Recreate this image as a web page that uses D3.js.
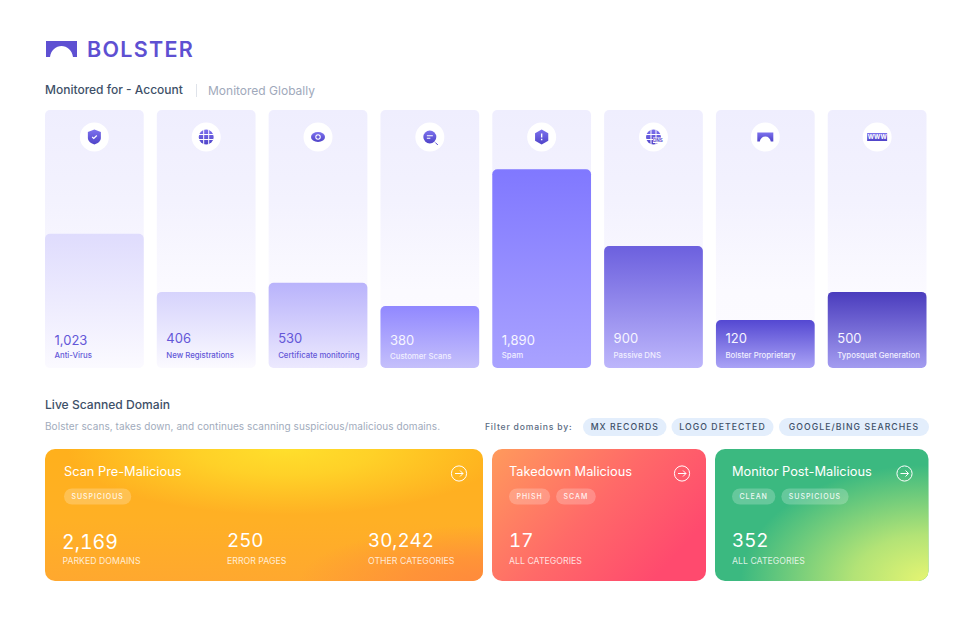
<!DOCTYPE html>
<html>
<head>
<meta charset="utf-8">
<script src="https://cdn.jsdelivr.net/npm/d3@7"></script>
<style>
  html, body { margin: 0; padding: 0; background: #fff; }
  svg { display: block; }
  text { font-family: Inter, "Noto Sans", sans-serif; }
</style>
</head>
<body>
<div id="chart"></div>
<script>
// bar data
const sources = ["Anti-Virus", "New Registrations", "Certificate monitoring", "Customer Scans", "Spam", "Passive DNS", "Bolster Proprietary", "Typosquat Generation"];
const counts = [1023, 406, 530, 380, 1890, 900, 120, 500];
// the bars are not linear to the counts, so the fill level is read off the picture
const fillLevels = [0.52, 0.295, 0.33, 0.24, 0.77, 0.473, 0.186, 0.295];
const barTopColors = ["#dfdcfd", "#d6d3fc", "#b9b3fb", "#9188ff", "#8078ff", "#6c60de", "#5448d2", "#4a3cbd"];
const barBottomColors = ["#fbfaff", "#fbfaff", "#ece9fe", "#c5c0fb", "#a9a2ff", "#bdb6fb", "#aaa3f6", "#a39cf0"];
const darkLabel = [false, false, false, true, true, true, true, true];

// domain cards
const stages = ["Scan Pre-Malicious", "Takedown Malicious", "Monitor Post-Malicious"];
const stageTags = [["SUSPICIOUS"], ["PHISH", "SCAM"], ["CLEAN", "SUSPICIOUS"]];
const stageValues = [[2169, 250, 30242], [17], [352]];
const stageValueLabels = [["PARKED DOMAINS", "ERROR PAGES", "OTHER CATEGORIES"], ["ALL CATEGORIES"], ["ALL CATEGORIES"]];
const filters = ["MX RECORDS", "LOGO DETECTED", "GOOGLE/BING SEARCHES"];

const width = 974;
const height = 621;

const svg = d3.select("#chart").append("svg")
    .attr("width", width)
    .attr("height", height);
const defs = svg.append("defs");

function linearGrad(id, stops, x2 = 0, y2 = 1) {
    const g = defs.append("linearGradient").attr("id", id)
        .attr("x1", 0).attr("y1", 0).attr("x2", x2).attr("y2", y2);
    stops.forEach(s => g.append("stop").attr("offset", s[0]).attr("stop-color", s[1]));
}

function radialGrad(id, cx, cy, r, color) {
    const g = defs.append("radialGradient").attr("id", id)
        .attr("cx", cx).attr("cy", cy).attr("r", r);
    g.append("stop").attr("offset", 0).attr("stop-color", color).attr("stop-opacity", 1);
    g.append("stop").attr("offset", 0.4).attr("stop-color", color).attr("stop-opacity", 0.7);
    g.append("stop").attr("offset", 1).attr("stop-color", color).attr("stop-opacity", 0);
}

linearGrad("trackFill", [[0, "#efeefe"], [0.35, "#f3f2fe"], [0.7, "#fbfaff"], [1, "#fcfbff"]]);
linearGrad("iconFill", [[0, "#7d72ee"], [1, "#4f43c8"]]);
barTopColors.forEach((c, i) => linearGrad(`bar${i}`, [[0, c], [1, barBottomColors[i]]]));

// logo
const logo = svg.append("g");
logo.append("path")
    .attr("fill", "#5e50d2")
    .attr("d", "M46,41H77V57H73C72,50 67,46 61.5,46C56,46 51,50 50,57H46Z");
logo.append("text")
    .attr("x", 87).attr("y", 57)
    .attr("fill", "#5e50d2")
    .style("font-size", "21.5px").style("font-weight", 600).style("letter-spacing", "1.3px")
    .text("BOLSTER");

// section header
svg.append("text").attr("x", 45).attr("y", 94)
    .attr("fill", "#3e5068")
    .style("font-size", "12px").style("font-weight", 500)
    .text("Monitored for - Account");
svg.append("line").attr("x1", 196.5).attr("x2", 196.5).attr("y1", 84).attr("y2", 97)
    .attr("stroke", "#dfe3ea");
svg.append("text").attr("x", 208).attr("y", 95)
    .attr("fill", "#9fa9bb")
    .style("font-size", "12px")
    .text("Monitored Globally");

// bars
const x = d3.scaleBand().domain(sources).range([45, 926.5]).paddingInner(0.117);
const y = d3.scaleLinear().domain([0, 1]).range([368, 110]);

const columns = svg.append("g").selectAll("g")
    .data(sources)
    .join("g")
    .attr("transform", d => `translate(${x(d)},0)`);

columns.append("rect")
    .attr("y", y(1))
    .attr("width", x.bandwidth())
    .attr("height", y(0) - y(1))
    .attr("rx", 5)
    .attr("fill", "url(#trackFill)");

columns.append("rect")
    .attr("y", (d, i) => y(fillLevels[i]))
    .attr("width", x.bandwidth())
    .attr("height", (d, i) => y(0) - y(fillLevels[i]))
    .attr("rx", 5)
    .attr("fill", (d, i) => `url(#bar${i})`);

columns.append("text")
    .attr("x", 9.5)
    .attr("y", (d, i) => (i === 0 || i === 3 || i === 4) ? 345 : 343)
    .attr("fill", (d, i) => darkLabel[i] ? "#f6f5ff" : "#6357d8")
    .style("font-size", "13px")
    .text((d, i) => d3.format(",")(counts[i]));

columns.append("text")
    .attr("x", 9.5)
    .attr("y", (d, i) => i === 3 ? 359 : 358)
    .attr("fill", (d, i) => darkLabel[i] ? "#f1efff" : "#6357d8")
    .style("font-size", "7.8px")
    .style("font-weight", 500)
    .text(d => d);

// icons on the white discs
const icons = [
    g => {
        g.append("path").attr("fill", "url(#iconFill)").attr("d", "M0,-7.5L6.5,-5V1C6.5,4.5 3,6.5 0,7.5C-3,6.5 -6.5,4.5 -6.5,1V-5Z");
        g.append("path").attr("fill", "none").attr("stroke", "#fff").attr("stroke-width", 1.2).attr("d", "M-2.2,0L-0.6,1.5L2.4,-1.5");
    },
    g => globe(g),
    g => {
        g.append("ellipse").attr("rx", 7).attr("ry", 5).attr("fill", "url(#iconFill)");
        g.append("circle").attr("r", 2.2).attr("fill", "none").attr("stroke", "#fff").attr("stroke-width", 1.1);
    },
    g => {
        g.append("circle").attr("r", 6.5).attr("fill", "url(#iconFill)");
        g.append("path").attr("stroke", "#fff").attr("stroke-width", 1.1).attr("d", "M-3,-1.2H3M-3,1.2H0.5");
        g.append("path").attr("stroke", "#5a4ed0").attr("stroke-width", 1).attr("d", "M5.5,5.5L8,8");
    },
    g => {
        g.append("path").attr("fill", "url(#iconFill)").attr("d", "M0,-7.5L6.6,-3.8V3.8L0,7.5L-6.6,3.8V-3.8Z");
        g.append("path").attr("stroke", "#fff").attr("stroke-width", 1.4).attr("stroke-dasharray", "4 1.4 1.4").attr("d", "M0,-3.6V3.4");
    },
    g => {
        globe(g);
        g.append("rect").attr("x", -0.5).attr("y", 0.5).attr("width", 9.5).attr("height", 5.5).attr("fill", "#fff");
        g.append("text").attr("x", 4.3).attr("y", 5).attr("text-anchor", "middle").attr("fill", "#5a4ed0")
            .style("font-size", "4.6px").style("font-weight", 700).text("DNS");
    },
    g => {
        g.append("path").attr("fill", "url(#iconFill)").attr("d", "M-8,-4.5H8V4.5H5.5C5,1.5 3,-0.5 0,-0.5C-3,-0.5 -5,1.5 -5.5,4.5H-8Z");
    },
    g => {
        g.append("rect").attr("x", -10).attr("y", -4).attr("width", 20).attr("height", 8).attr("fill", "url(#iconFill)");
        g.append("text").attr("y", 2.2).attr("text-anchor", "middle").attr("fill", "#fff")
            .style("font-size", "6px").style("font-weight", 700).text("WWW");
    }
];

function globe(g) {
    g.append("circle").attr("r", 7.5).attr("fill", "url(#iconFill)");
    g.append("path").attr("fill", "none").attr("stroke", "#fff").attr("stroke-width", 1)
        .attr("d", "M-7.5,-2.5H7.5M-7.5,2.5H7.5M-2.5,-7.5V7.5M2.5,-7.5V7.5");
}

columns.append("circle")
    .attr("cx", x.bandwidth() / 2)
    .attr("cy", 137)
    .attr("r", 14.5)
    .attr("fill", "#fff");

columns.append("g")
    .attr("transform", `translate(${x.bandwidth() / 2},137)`)
    .each(function(d, i) { icons[i](d3.select(this)); });

// live scanned header
svg.append("text").attr("x", 45).attr("y", 409)
    .attr("fill", "#3e5068")
    .style("font-size", "12.1px").style("font-weight", 500)
    .text("Live Scanned Domain");
svg.append("text").attr("x", 45).attr("y", 430)
    .attr("fill", "#a1abbc")
    .style("font-size", "10px").style("letter-spacing", "0.08px")
    .text("Bolster scans, takes down, and continues scanning suspicious/malicious domains.");

svg.append("text").attr("x", 485).attr("y", 430)
    .attr("fill", "#5a6b82")
    .style("font-size", "8.6px").style("font-weight", 500).style("letter-spacing", "0.8px")
    .text("Filter domains by:");

// filter chips
const chipX = [583, 671.5, 779];
const chipW = [83.5, 102, 150];
const chips = svg.append("g").selectAll("g")
    .data(filters)
    .join("g")
    .attr("transform", (d, i) => `translate(${chipX[i]},418)`);
chips.append("rect")
    .attr("width", (d, i) => chipW[i])
    .attr("height", 18)
    .attr("rx", 9)
    .attr("fill", "#e3eefc");
chips.append("text")
    .attr("x", (d, i) => chipW[i] / 2)
    .attr("y", 12.2)
    .attr("text-anchor", "middle")
    .attr("fill", "#3e5068")
    .style("font-size", "8.7px").style("font-weight", 500).style("letter-spacing", "1.05px")
    .text(d => d);

// gradient layers for the domain cards
linearGrad("scanBase", [[0, "#ffb01c"], [0.55, "#ffb025"], [1, "#ffa82f"]]);
radialGrad("scanGlow", 0.55, 0, 0.5, "#ffdf2c");
radialGrad("scanCorner", 1, 1, 0.42, "#ff8a3c");
linearGrad("takedownBase", [[0, "#ff9a5c"], [0.55, "#ff6a68"], [1, "#ff4a6e"]], 1, 0.55);
linearGrad("monitorBase", [[0, "#3bb980"], [1, "#3bb980"]]);
radialGrad("monitorGlow", 1, 1, 0.88, "#e6f572");

const cardX = [45, 492, 715];
const cardW = [438, 214, 213.5];
const cardFills = [["scanBase", "scanGlow", "scanCorner"], ["takedownBase"], ["monitorBase", "monitorGlow"]];
const valueX = [[17, 182, 323], [17], [17]];
const titleX = [19, 17, 17];
const labelX = [[17.5, 182, 323], [17], [17]];

const cards = svg.append("g").selectAll("g")
    .data(stages)
    .join("g")
    .attr("transform", (d, i) => `translate(${cardX[i]},449)`);

cards.each(function(d, i) {
    const card = d3.select(this);
    cardFills[i].forEach(fill => {
        card.append("rect")
            .attr("width", cardW[i])
            .attr("height", 132)
            .attr("rx", 10)
            .attr("fill", `url(#${fill})`);
    });

    card.append("text")
        .attr("x", titleX[i])
        .attr("y", 27)
        .attr("fill", "#fff")
        .style("font-size", "12.8px")
        .text(d);

    // arrow in a circle
    const arrow = card.append("g")
        .attr("transform", `translate(${cardW[i] - 24},24.5)`)
        .attr("fill", "none")
        .attr("stroke", "#fff");
    arrow.append("circle").attr("r", 7.6).attr("stroke-width", 1);
    arrow.append("path").attr("stroke-width", 1).attr("d", "M-4,0H4M1,-3L4,0L1,3");

    // tags, sized to their text
    let tagX = titleX[i];
    stageTags[i].forEach(tag => {
        const tagRect = card.append("rect")
            .attr("x", tagX).attr("y", 39.5)
            .attr("height", 16)
            .attr("rx", 8)
            .attr("fill", "#fff").attr("fill-opacity", 0.22);
        const tagText = card.append("text")
            .attr("y", 49.8)
            .attr("text-anchor", "middle")
            .attr("fill", "#fff").attr("fill-opacity", 0.9)
            .style("font-size", "7px").style("font-weight", 500).style("letter-spacing", "0.95px")
            .text(tag);
        const tagW = tagText.node().getComputedTextLength() + 15;
        tagRect.attr("width", tagW);
        tagText.attr("x", tagX + tagW / 2);
        tagX += tagW + 6;
    });

    stageValues[i].forEach((v, j) => {
        const lead = i === 0 && j === 0;
        card.append("text")
            .attr("x", valueX[i][j])
            .attr("y", lead ? 100 : 98)
            .attr("fill", "#fff")
            .style("font-size", lead ? "19.5px" : "18.8px")
            .style("font-variant-numeric", "tabular-nums")
            .text(d3.format(",")(v));
        card.append("text")
            .attr("x", labelX[i][j])
            .attr("y", i === 2 ? 115 : 114.5)
            .attr("fill", "#fff").attr("fill-opacity", 0.8)
            .style("font-size", "8.75px")
            .text(stageValueLabels[i][j]);
    });
});
</script>
</body>
</html>
